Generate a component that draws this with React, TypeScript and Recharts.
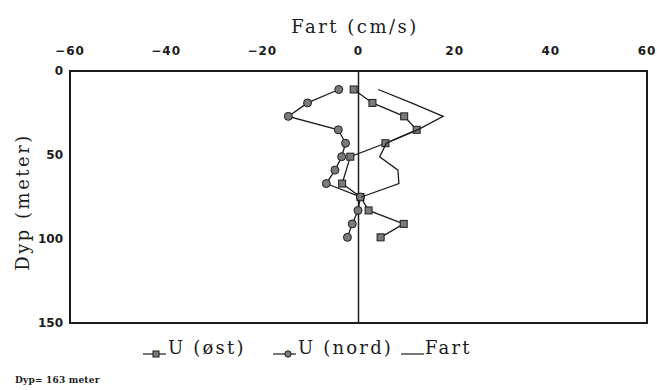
// App.tsx
import { ScatterChart, Scatter, XAxis, YAxis, ReferenceLine, ReferenceArea, Label } from 'recharts';

// depth levels (m) and current components (cm/s)
const nordDepths = [11, 19, 27, 35, 43, 51, 59, 67, 75, 83, 91, 99];
const nordValues = [-4.1, -10.6, -14.6, -4.2, -2.7, -3.5, -4.9, -6.7, 0.4, -0.1, -1.3, -2.3];
const ostDepths = [11, 19, 27, 35, 43, 51, 67, 75, 83, 91, 99];
const ostValues = [-1.0, 2.9, 9.5, 12.1, 5.6, -1.7, -3.4, 0.4, 2.1, 9.4, 4.6];
const fartDepths = [11, 19, 27, 35, 43, 51, 59, 67, 75];
const fartValues = [4.1, 11.0, 17.6, 12.3, 5.8, 4.4, 8.2, 8.4, 0.6];

const xTicks = [-60, -40, -20, 0, 20, 40, 60];
const yTicks = [0, 50, 100, 150];

const toPoints = (depths: number[], values: number[]) =>
    depths.map((d, i) => ({ x: values[i], y: d }));

const ink = '#1c1c1c';
const serif = '"DejaVu Serif", serif';
const tickFont = { fontFamily: '"DejaVu Sans", sans-serif', fontSize: 12, fontWeight: 700, fill: ink };

const Square = ({ cx, cy }: any) => (
    <rect x={cx - 3.5} y={cy - 3.5} width={7} height={7} fill="#7a7a7a" stroke={ink} strokeWidth={1} />
);
const Dot = ({ cx, cy }: any) => <circle cx={cx} cy={cy} r={4} fill="#7a7a7a" stroke={ink} strokeWidth={1} />;
const NoMark = () => <g />;

const fmt = (v: number) => (v < 0 ? `\u2212${-v}` : `${v}`);

export default function App() {
    return (
        <div style={{ position: 'absolute', left: 0, top: 0, width: 657, height: 390, background: '#fff' }}>
            <ScatterChart width={657} height={390} margin={{ top: 41, right: 10, bottom: 67, left: 40 }}>
                <XAxis
                    type="number"
                    dataKey="x"
                    orientation="top"
                    domain={[-60, 60]}
                    ticks={xTicks}
                    tickFormatter={fmt}
                    height={30}
                    tickSize={0}
                    tickMargin={16}
                    axisLine={false}
                    tick={{ ...tickFont, letterSpacing: 1 }}
                >
                    <Label
                        content={() => (
                            <text
                                x={355}
                                y={33}
                                textAnchor="middle"
                                fontFamily={serif}
                                fontSize={18}
                                letterSpacing={2.5}
                                fill={ink}
                            >
                                Fart (cm/s)
                            </text>
                        )}
                    />
                </XAxis>
                <YAxis
                    type="number"
                    dataKey="y"
                    reversed
                    domain={[0, 150]}
                    ticks={yTicks}
                    width={30}
                    tickSize={0}
                    tickMargin={7}
                    axisLine={false}
                    tick={tickFont}
                >
                    <Label
                        content={() => (
                            <text
                                x={29}
                                y={202}
                                transform="rotate(-90 29 202)"
                                textAnchor="middle"
                                fontFamily={serif}
                                fontSize={18}
                                letterSpacing={2.5}
                                fill={ink}
                            >
                                Dyp (meter)
                            </text>
                        )}
                    />
                </YAxis>
                <ReferenceArea x1={-60} x2={60} y1={0} y2={150} fill="none" stroke={ink} strokeWidth={2} fillOpacity={0} />
                <ReferenceLine x={0} stroke={ink} strokeWidth={1.5} />
                <Scatter
                    name="U (øst)"
                    data={toPoints(ostDepths, ostValues)}
                    line={{ stroke: ink, strokeWidth: 1.3 }}
                    lineType="joint"
                    shape={Square}
                    isAnimationActive={false}
                />
                <Scatter
                    name="U (nord)"
                    data={toPoints(nordDepths, nordValues)}
                    line={{ stroke: ink, strokeWidth: 1.3 }}
                    lineType="joint"
                    shape={Dot}
                    isAnimationActive={false}
                />
                <Scatter
                    name="Fart"
                    data={toPoints(fartDepths, fartValues)}
                    line={{ stroke: ink, strokeWidth: 1.3 }}
                    lineType="joint"
                    shape={NoMark}
                    isAnimationActive={false}
                />
            </ScatterChart>
            {/* legend and footnote, drawn like the original printout */}
            <svg width={657} height={390} style={{ position: 'absolute', left: 0, top: 0, pointerEvents: 'none' }}>
                <g fontFamily={serif} fontSize={18} letterSpacing={2.2} fill={ink}>
                    <line x1={143} x2={166} y1={354} y2={354} stroke={ink} strokeWidth={1.2} />
                    <rect x={153} y={351} width={6} height={6} fill="#7a7a7a" stroke={ink} strokeWidth={1} />
                    <text x={168} y={354}>U (øst)</text>
                    <line x1={273} x2={296} y1={354} y2={354} stroke={ink} strokeWidth={1.2} />
                    <circle cx={288} cy={354} r={3.2} fill="#7a7a7a" stroke={ink} strokeWidth={1} />
                    <text x={298} y={354}>U (nord)</text>
                    <line x1={401} x2={424} y1={354} y2={354} stroke={ink} strokeWidth={1.2} />
                    <text x={425} y={354}>Fart</text>
                </g>
                <text x={15} y={383} fontFamily={serif} fontSize={9} fontWeight={700} letterSpacing={0.2} fill={ink}>
                    Dyp= 163 meter
                </text>
            </svg>
        </div>
    );
}
